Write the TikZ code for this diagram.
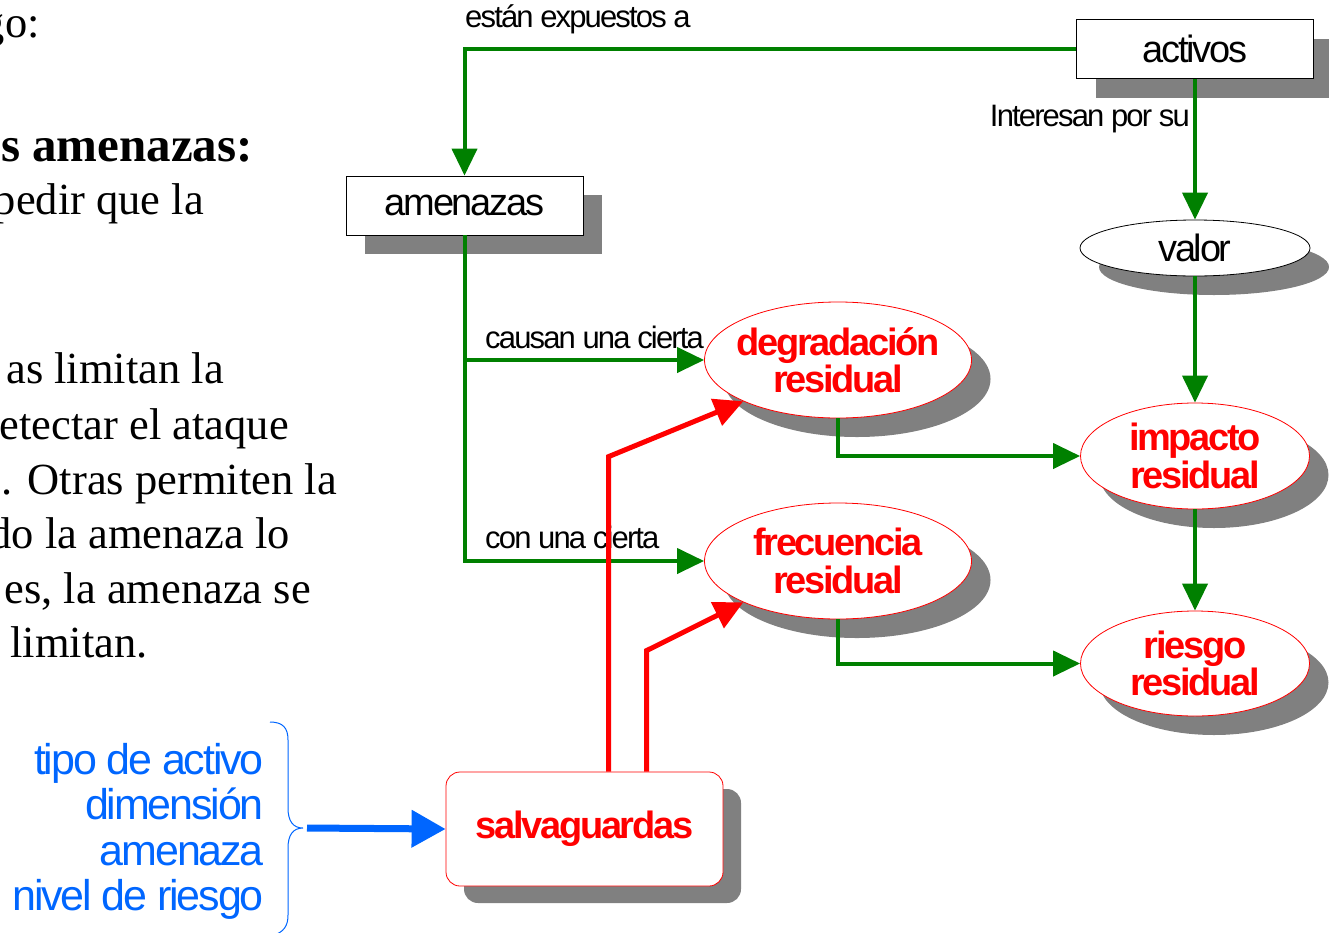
\documentclass[tikz,border=0pt]{standalone}
\usepackage{fontspec}
\setmainfont{Liberation Serif}
\newfontfamily\diag[LetterSpace=-6]{Liberation Sans}
\newfontfamily\diagb[LetterSpace=-5]{Liberation Sans}
\usetikzlibrary{arrows.meta,shapes.geometric,shadows}
\definecolor{gr}{HTML}{008000}
\definecolor{bl}{HTML}{0066FF}
\definecolor{rd}{HTML}{FF0000}
\definecolor{sh}{HTML}{808080}
\tikzset{
  shad/.style={drop shadow={shadow xshift=19pt,shadow yshift=-19pt,fill=sh,opacity=1}},
  bigfont/.style={font=\diag\fontsize{38pt}{40pt}\selectfont},
  boxnode/.style={draw=black,line width=0.8pt,fill=white,rectangle,minimum width=237pt,minimum height=59pt,inner sep=0pt,shad,bigfont},
  rellipse/.style={draw=rd,line width=0.8pt,fill=white,ellipse,inner sep=0pt,shad},
  redlbl/.style={text=rd,align=center,inner sep=0pt,font=\diag\bfseries\fontsize{38pt}{37.5pt}\selectfont},
  small/.style={inner sep=0pt,font=\diag\fontsize{31pt}{33pt}\selectfont},
  serif/.style={inner sep=0pt,anchor=base east,font=\fontsize{44.5pt}{55pt}\selectfont},
  bluetxt/.style={inner sep=0pt,anchor=base east,text=bl,font=\diagb\fontsize{43pt}{45pt}\selectfont},
  gline/.style={draw=gr,line width=4pt,-{Triangle[length=27pt,width=25pt]}},
  rline/.style={draw=rd,line width=5pt,-{Triangle[length=29pt,width=28pt]}},
  barrow/.style={draw=bl,line width=7pt,-{Triangle[length=34pt,width=36pt]}},
}
\begin{document}
\begin{tikzpicture}[x=1pt,y=-1pt]
\useasboundingbox (0,0) rectangle (1329,932);
\clip (0,0) rectangle (1329,932);
% left text
\node[serif] (t1) at (40,37) {go:};
\node[serif,font=\bfseries\fontsize{49pt}{55pt}\selectfont] (t2) at (253,161) {s amenazas:};
\node[serif] (t3) at (204,214) {pedir que la};
\node[serif] (t4) at (224,383) {as limitan la};
\node[serif] (t5) at (289,439) {etectar el ataque};
\node[serif] (t6) at (337,494) {. Otras permiten la};
\node[serif] (t7) at (290,548) {do la amenaza lo};
\node[serif] (t8) at (311,603) {es, la amenaza se};
\node[serif] (t9) at (148,657) {limitan.};
% blue text
\node[bluetxt] (b1) at (264,774) {tipo de activo};
\node[bluetxt] (b2) at (264,819) {dimensión};
\node[bluetxt] (b3) at (264,865) {amenaza};
\node[bluetxt] (b4) at (264,910) {nivel de riesgo};
% nodes
\node[boxnode] (act) at (1195,49) {activos};
\node[boxnode] (am) at (464.5,205.5) {amenazas};
\node[draw=black,line width=0.8pt,fill=white,ellipse,inner sep=0pt,minimum width=230pt,minimum height=56pt,shad,bigfont] (val) at (1195,248) {valor};
\node[rellipse,minimum width=267pt,minimum height=116pt,label={[redlbl]center:{degradación\\residual}}] (deg) at (838,360) {};
\node[rellipse,minimum width=267pt,minimum height=116pt,label={[redlbl]center:{frecuencia\\residual}}] (frec) at (838,561) {};
\node[rellipse,minimum width=229pt,minimum height=106pt,label={[redlbl]center:{impacto\\residual}}] (imp) at (1195,456) {};
\node[rellipse,minimum width=229pt,minimum height=105pt,label={[redlbl]center:{riesgo\\residual}}] (ri) at (1195,663.5) {};
\node[draw=rd,line width=0.8pt,fill=white,rectangle,rounded corners=14pt,minimum width=277pt,minimum height=114pt,inner sep=0pt,drop shadow={shadow xshift=18pt,shadow yshift=-17pt,fill=sh,opacity=1},text=rd,font=\diag\bfseries\fontsize{38pt}{40pt}\selectfont] (salv) at (584.5,829) {salvaguardas};
% labels
\node[small,anchor=base west] (l1) at (465,27) {están expuestos a};
\node[small,anchor=base east] (l2) at (1190,126) {Interesan por su};
\node[small,anchor=base west] (l3) at (485,348) {causan una cierta};
\node[small,anchor=base west] (l4) at (485,548) {con una cierta};
% green connectors
\draw[gline] (act.west) -| (am.north);
\draw[gline] (act.south) -- (val.north);
\draw[gline] (am.south) |- (deg.west);
\draw[gline] (am.south) |- (frec.west);
\draw[gline] (val.south) -- (imp.north);
\draw[gline] (deg.south) |- (imp.west);
\draw[gline] (frec.south) |- (ri.west);
\draw[gline] (imp.south) -- (ri.north);
% red connectors
\draw[rline] ([xshift=163pt]salv.north west) -- ++(0,-315) -- (deg.south west);
\draw[rline] ([xshift=201pt]salv.north west) -- ++(0,-121) -- (frec.south west);
% brace and blue arrow
\coordinate (bt) at (303,828);
\draw[bl,line width=1pt] (270,722) .. controls (283,722) and (288,728) .. (288,740) -- (288,808) .. controls (288,821) and (293,828) .. (bt) .. controls (293,828) and (288,835) .. (288,848) -- (288,915) .. controls (288,926) and (284,932) .. (272,936);
\draw[barrow] ([xshift=4pt]bt) -- (salv.west);
\end{tikzpicture}
\end{document}
